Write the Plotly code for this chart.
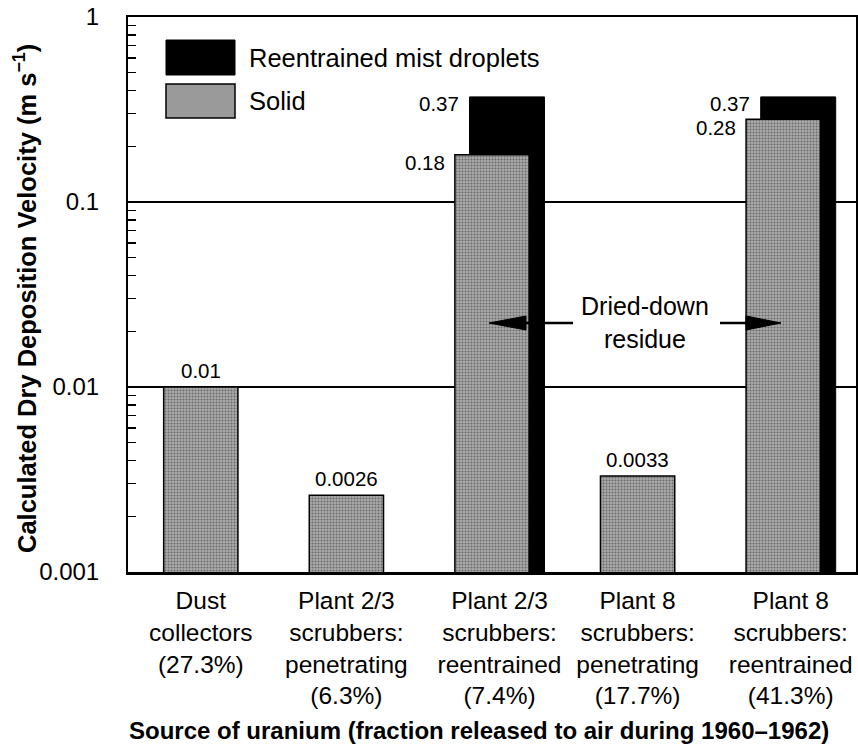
import math
import plotly.graph_objects as go

# ---- data ----
categories = [
    "Dust<br>collectors<br>(27.3%)",
    "Plant 2/3<br>scrubbers:<br>penetrating<br>(6.3%)",
    "Plant 2/3<br>scrubbers:<br>reentrained<br>(7.4%)",
    "Plant 8<br>scrubbers:<br>penetrating<br>(17.7%)",
    "Plant 8<br>scrubbers:<br>reentrained<br>(41.3%)",
]
solid = [0.01, 0.0026, 0.18, 0.0033, 0.28]
solid_labels = ["0.01", "0.0026", "0.18", "0.0033", "0.28"]
mist = [None, None, 0.37, None, 0.37]
mist_labels = [None, None, "0.37", None, "0.37"]
y_tickvals = [0.001, 0.01, 0.1, 1]
y_ticktext = ["0.001", "0.01", "0.1", "1"]

# ---- layout constants ----
W, H = 858, 746
L, R, T, B = 128, 2, 17, 174
PW, PH = W - L - R, H - T - B
FONT = "Liberation Sans, Arial, Helvetica, sans-serif"
GRAY_W = 0.51
MIST_W = 0.515
MIST_OFF = 0.103

def px2paper_x(px):
    return (px - L) / PW

def px2paper_y(py):
    return (H - B - py) / PH

n = len(categories)
xs = list(range(n))
mist_x = [i + MIST_OFF for i in xs]
tickpos = [i + (MIST_OFF / 2 if mist[i] is not None else 0) for i in xs]

fig = go.Figure()

fig.add_trace(go.Bar(
    x=mist_x, y=mist, width=MIST_W,
    marker=dict(color="black", line=dict(color="black", width=1)),
    showlegend=False, hoverinfo="skip",
))
fig.add_trace(go.Bar(
    x=xs, y=solid, width=GRAY_W,
    marker=dict(color="#a0a0a0", line=dict(color="black", width=1.5),
                pattern=dict(shape=".", fgcolor="#2a2a2a", bgcolor="#aaaaaa",
                             size=3, solidity=0.35)),
    showlegend=False, hoverinfo="skip",
))

annotations = []
vfont = dict(family=FONT, size=20.5, color="black")
for i in xs:
    if mist[i] is None:
        annotations.append(dict(x=i, y=math.log10(solid[i]), xref="x", yref="y",
                                text=solid_labels[i], showarrow=False, font=vfont,
                                xanchor="center", yanchor="bottom", yshift=3))
    else:
        annotations.append(dict(x=i + MIST_OFF - MIST_W / 2, y=math.log10(mist[i]), xref="x", yref="y",
                                text=mist_labels[i], showarrow=False, font=vfont,
                                xanchor="right", yanchor="middle", xshift=-9, yshift=-7))
        annotations.append(dict(x=i - GRAY_W / 2, y=math.log10(solid[i]), xref="x", yref="y",
                                text=solid_labels[i], showarrow=False, font=vfont,
                                xanchor="right", yanchor="middle", xshift=-8, yshift=-8))

big = dict(family=FONT, size=25, color="black")
annotations.append(dict(x=px2paper_x(645), y=px2paper_y(323), xref="paper", yref="paper",
                        text="Dried-down<br>residue",
                        showarrow=False, font=big, xanchor="center", yanchor="middle"))

# legend texts
leg = dict(family=FONT, size=25.5, color="black")
annotations.append(dict(x=px2paper_x(247), y=px2paper_y(58), xref="paper", yref="paper",
                        text="Reentrained mist droplets", showarrow=False, font=leg,
                        xanchor="left", yanchor="middle"))
annotations.append(dict(x=px2paper_x(247), y=px2paper_y(101), xref="paper", yref="paper",
                        text="Solid", showarrow=False, font=leg,
                        xanchor="left", yanchor="middle"))

# axis titles
annotations.append(dict(x=px2paper_x(25), y=px2paper_y(299), xref="paper", yref="paper",
                        text="<b>Calculated Dry Deposition Velocity (m s<sup>−1</sup>)</b>",
                        textangle=-90, showarrow=False,
                        font=dict(family=FONT, size=25.5, color="black"),
                        xanchor="center", yanchor="middle"))
annotations.append(dict(x=px2paper_x(479), y=px2paper_y(730), xref="paper", yref="paper",
                        text="<b>Source of uranium (fraction released to air during 1960–1962)</b>",
                        showarrow=False, font=dict(family=FONT, size=24, color="black"),
                        xanchor="center", yanchor="middle"))

def line_px(x0, x1, y):
    return dict(type="line", xref="paper", yref="paper",
                x0=px2paper_x(x0), x1=px2paper_x(x1), y0=px2paper_y(y), y1=px2paper_y(y),
                line=dict(color="black", width=2.5))

def head_px(tip, base, y, half=7):
    p = "M {:.5f},{:.5f} L {:.5f},{:.5f} L {:.5f},{:.5f} Z".format(
        px2paper_x(tip), px2paper_y(y),
        px2paper_x(base), px2paper_y(y - half),
        px2paper_x(base), px2paper_y(y + half))
    return dict(type="path", xref="paper", yref="paper", path=p,
                fillcolor="black", line=dict(color="black", width=1))

shapes = [
    dict(type="rect", xref="paper", yref="paper",
         x0=px2paper_x(166), x1=px2paper_x(235), y0=px2paper_y(75), y1=px2paper_y(40),
         fillcolor="black", line=dict(color="black", width=1)),
    dict(type="rect", xref="paper", yref="paper",
         x0=px2paper_x(166), x1=px2paper_x(235), y0=px2paper_y(118), y1=px2paper_y(84),
         fillcolor="#9a9a9a", line=dict(color="black", width=1.5)),
    line_px(520, 573, 323),
    head_px(489, 526, 323),
    line_px(720, 750, 323),
    head_px(781, 746, 323),
]

minor_vals = [m * 10.0 ** e for e in range(-3, 0) for m in range(2, 10)]

fig.update_layout(
    width=W, height=H,
    margin=dict(l=L, r=R, t=T, b=B, autoexpand=False),
    paper_bgcolor="white", plot_bgcolor="white",
    barmode="overlay",
    annotations=annotations,
    shapes=shapes,
    font=dict(family=FONT, color="black"),
    xaxis=dict(range=[-0.5, 4.5], tickmode="array", tickvals=tickpos, ticktext=categories,
               showgrid=False, zeroline=False, showline=True, linecolor="black", linewidth=2.5,
               mirror=True, ticks="", tickfont=dict(family=FONT, size=24.5, color="black"),
               ticklabelstandoff=5, automargin=False),
    yaxis=dict(type="log", range=[-3, 0], tickmode="array", tickvals=y_tickvals,
               ticktext=y_ticktext, showgrid=True, gridcolor="black", gridwidth=2,
               zeroline=False, showline=True, linecolor="black", linewidth=2, mirror=True,
               ticks="", tickfont=dict(family=FONT, size=24, color="black"),
               ticklabelstandoff=22, automargin=False,
               minor=dict(tickmode="array", tickvals=minor_vals, ticks="inside",
                          ticklen=8, tickwidth=1.5, tickcolor="black", showgrid=False)),
)

fig.write_html("out.html", config={"displayModeBar": False, "staticPlot": True},
               post_script="document.body.style.margin='0px';document.body.style.padding='0px';")
